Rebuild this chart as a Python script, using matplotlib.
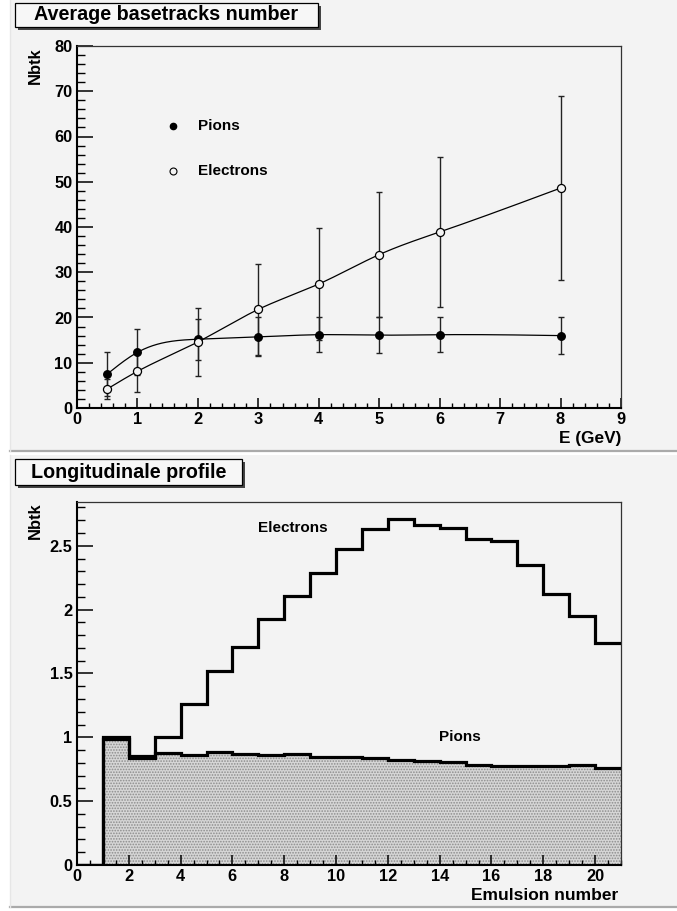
import numpy as np
import matplotlib
matplotlib.use("Agg")
import matplotlib.pyplot as plt
from matplotlib.patches import Rectangle
from matplotlib.lines import Line2D
from matplotlib.ticker import MultipleLocator, FormatStrFormatter

# average number of basetracks vs energy
energy = [0.5, 1, 2, 3, 4, 5, 6, 8]
pions = [7.5, 12.3, 15.2, 15.7, 16.2, 16.1, 16.2, 16.0]
pions_err = [4.9, 5.1, 4.5, 4.3, 3.8, 3.9, 3.9, 4.0]
electrons = [4.2, 8.1, 14.6, 21.8, 27.4, 33.9, 38.9, 48.6]
electrons_err = [2.3, 4.5, 7.5, 10.0, 12.4, 13.9, 16.5, 20.4]

# longitudinal profile, one bin per emulsion
emul_edges = list(range(0, 22))
prof_electrons = [0.0, 1.0, 0.85, 1.005, 1.258, 1.519, 1.71, 1.924, 2.109, 2.289, 2.472,
                  2.631, 2.707, 2.662, 2.642, 2.55, 2.537, 2.349, 2.12, 1.95, 1.736]
prof_pions = [0.0, 0.99, 0.84, 0.88, 0.861, 0.887, 0.867, 0.859, 0.867, 0.848, 0.848,
              0.835, 0.822, 0.817, 0.809, 0.783, 0.772, 0.772, 0.772, 0.78, 0.762]

W, H = 677, 911
BG = "#f3f3f3"
FONT = "Liberation Sans"

plt.rcParams["font.family"] = [FONT, "DejaVu Sans"]
plt.rcParams["font.weight"] = "bold"
plt.rcParams["hatch.linewidth"] = 0.8


def fx(px):
    return px / W


def fy(py):
    return 1 - py / H


def spline(x, y, n=400):
    # natural cubic spline, plain numpy
    x = np.asarray(x, float)
    y = np.asarray(y, float)
    m = len(x)
    h = np.diff(x)
    A = np.zeros((m, m))
    b = np.zeros(m)
    A[0, 0] = A[-1, -1] = 1
    for i in range(1, m - 1):
        A[i, i - 1] = h[i - 1]
        A[i, i] = 2 * (h[i - 1] + h[i])
        A[i, i + 1] = h[i]
        b[i] = 6 * ((y[i + 1] - y[i]) / h[i] - (y[i] - y[i - 1]) / h[i - 1])
    M = np.linalg.solve(A, b)
    xs = np.linspace(x[0], x[-1], n)
    k = np.clip(np.searchsorted(x, xs) - 1, 0, m - 2)
    t0 = x[k + 1] - xs
    t1 = xs - x[k]
    hk = h[k]
    ys = (M[k] * t0 ** 3 + M[k + 1] * t1 ** 3) / (6 * hk) \
        + (y[k] / hk - M[k] * hk / 6) * t0 + (y[k + 1] / hk - M[k + 1] * hk / 6) * t1
    return xs, ys


def pad_box(top, bottom):
    fig.add_artist(Rectangle((fx(10), fy(bottom)), 1 - fx(10), fy(top) - fy(bottom),
                             transform=fig.transFigure, facecolor=BG, edgecolor="none", zorder=-10))
    fig.add_artist(Line2D([fx(10), 1], [fy(bottom), fy(bottom)], transform=fig.transFigure,
                          color="#aaaaaa", lw=1.6, zorder=-9))
    fig.add_artist(Line2D([fx(10), fx(10)], [fy(bottom), fy(top)], transform=fig.transFigure,
                          color="#e6e6e6", lw=1.0, zorder=-9))


def title_box(text, x0, y0, x1, y1):
    fig.add_artist(Rectangle((fx(x0 + 3), fy(y1 + 3)), fx(x1 - x0), fy(y0) - fy(y1),
                             transform=fig.transFigure, facecolor="#444444", edgecolor="none"))
    fig.add_artist(Rectangle((fx(x0), fy(y1)), fx(x1 - x0), fy(y0) - fy(y1),
                             transform=fig.transFigure, facecolor="#f7f7f7", edgecolor="black", lw=0.9))
    fig.text(fx((x0 + x1) / 2), fy((y0 + y1) / 2), text, ha="center", va="center",
             fontsize=14.2, fontweight="bold")


def style_axes(ax, xmaj, xmin, ymaj, ymin):
    ax.set_facecolor(BG)
    for s in ["top", "right"]:
        ax.spines[s].set_color("#333333")
        ax.spines[s].set_linewidth(0.9)
    for s in ["left", "bottom"]:
        ax.spines[s].set_color("black")
        ax.spines[s].set_linewidth(1.5)
    ax.xaxis.set_major_locator(MultipleLocator(xmaj))
    ax.xaxis.set_minor_locator(MultipleLocator(xmin))
    ax.yaxis.set_major_locator(MultipleLocator(ymaj))
    ax.yaxis.set_minor_locator(MultipleLocator(ymin))
    ax.xaxis.set_major_formatter(FormatStrFormatter("%g"))
    ax.yaxis.set_major_formatter(FormatStrFormatter("%g"))
    ax.tick_params(axis="x", which="major", direction="in", length=7.5, width=1.1, pad=3.2,
                   labelsize=11.8, top=False)
    ax.tick_params(axis="x", which="minor", direction="in", length=3.8, width=1.0, top=False)
    ax.tick_params(axis="y", which="major", direction="in", length=11.5, width=1.1, pad=3.2,
                   labelsize=11.8, right=False)
    ax.tick_params(axis="y", which="minor", direction="in", length=5.8, width=1.0, right=False)


fig = plt.figure(figsize=(W / 100, H / 100), dpi=100, facecolor="white")
pad_box(0, 451)
pad_box(455, 907)

# top panel
ax1 = fig.add_axes([fx(77), fy(408), fx(621) - fx(77), fy(46) - fy(408)])
style_axes(ax1, 1, 0.2, 10, 2)
ax1.set_xlim(0, 9)
ax1.set_ylim(0, 80)

xs, ys = spline(energy, pions)
ax1.plot(xs, ys, color="black", lw=0.9, zorder=2)
xs, ys = spline(energy, electrons)
ax1.plot(xs, ys, color="black", lw=0.9, zorder=2)
ax1.errorbar(energy, pions, yerr=pions_err, fmt="none", ecolor="#222222", elinewidth=1.0,
             capsize=2, capthick=1.0, zorder=3)
ax1.errorbar(energy, electrons, yerr=electrons_err, fmt="none", ecolor="#222222", elinewidth=1.0,
             capsize=2, capthick=1.0, zorder=3)
ax1.plot(energy, pions, "o", color="black", ms=5.4, zorder=4)
ax1.plot(energy, electrons, "o", mfc=BG, mec="black", mew=0.9, ms=5.8, zorder=4)

# legend
ax1.plot([1.59], [62.4], "o", color="black", ms=4.5)
ax1.plot([1.59], [52.4], "o", mfc=BG, mec="black", mew=0.8, ms=5.0)
ax1.text(2.0, 62.4, "Pions", fontsize=11, fontweight="bold", va="center")
ax1.text(2.0, 52.4, "Electrons", fontsize=11, fontweight="bold", va="center")

fig.text(fx(35), fy(47), "Nbtk", rotation=90, ha="center", va="top", fontsize=11.9, fontweight="bold")
fig.text(fx(621), fy(438), "E (GeV)", ha="right", va="center", fontsize=12.4, fontweight="bold")
title_box("Average basetracks number", 15, 3, 318, 27)

# bottom panel
ax2 = fig.add_axes([fx(77), fy(865), fx(621) - fx(77), fy(501.7) - fy(865)])
style_axes(ax2, 2, 0.5, 0.5, 0.1)
ax2.set_xlim(0, 21)
ax2.set_ylim(0, 2.845)

ax2.stairs(prof_pions, emul_edges, baseline=0, fill=True, facecolor="#d6d6d6",
           edgecolor="#8c8c8c", hatch="......", lw=0, zorder=1)
ax2.stairs(prof_pions, emul_edges, baseline=None, color="black", lw=2.3, zorder=3)
ax2.stairs(prof_electrons, emul_edges, baseline=None, color="black", lw=2.3, zorder=3)
ax2.text(8.34, 2.64, "Electrons", fontsize=11, fontweight="bold", ha="center", va="center")
ax2.text(14.79, 1.0, "Pions", fontsize=11, fontweight="bold", ha="center", va="center")

fig.text(fx(35), fy(502), "Nbtk", rotation=90, ha="center", va="top", fontsize=11.9, fontweight="bold")
fig.text(fx(618), fy(895), "Emulsion number", ha="right", va="center", fontsize=12.5, fontweight="bold")
title_box("Longitudinale profile", 15, 459, 242, 485)

fig.savefig("out.png", dpi=100, facecolor="white")
